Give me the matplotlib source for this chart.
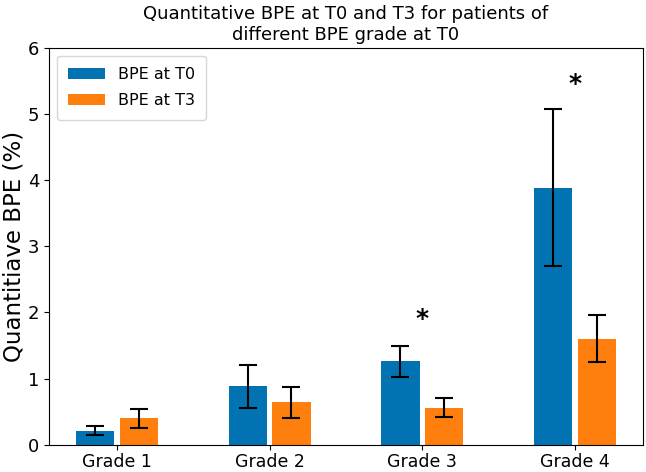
import matplotlib.pyplot as plt
import numpy as np

grades = ['Grade 1', 'Grade 2', 'Grade 3', 'Grade 4']
t0_mean = [0.21, 0.88, 1.26, 3.89]
t0_err = [0.07, 0.32, 0.23, 1.19]
t3_mean = [0.40, 0.64, 0.56, 1.60]
t3_err = [0.145, 0.23, 0.145, 0.355]
sig_pos = [2, 3]
sig_y = [1.9, 5.45]

x = np.arange(len(grades))
w = 0.25
off = 0.143

fig, ax = plt.subplots(figsize=(6.46, 4.72), dpi=100)
ax.bar(x - off, t0_mean, w, yerr=t0_err, capsize=6.5, color='#0173b2',
       error_kw=dict(elinewidth=1.5, capthick=1.5), label='BPE at T0')
ax.bar(x + off, t3_mean, w, yerr=t3_err, capsize=6.5, color='#ff7f0e',
       error_kw=dict(elinewidth=1.5, capthick=1.5), label='BPE at T3')

for p, yy in zip(sig_pos, sig_y):
    ax.text(x[p], yy, '*', ha='center', va='center', fontsize=18, fontweight='bold')

ax.set_ylim(0, 6)
ax.set_xticks(x)
ax.set_xticklabels(grades, fontsize=12.5)
ax.tick_params(axis='x', pad=2.5)
ax.tick_params(axis='y', labelsize=13)
ax.set_ylabel('Quantitiave BPE (%)', fontsize=16.5, labelpad=2)
ax.set_title('Quantitative BPE at T0 and T3 for patients of\ndifferent BPE grade at T0', fontsize=13)
ax.legend(loc='upper left', fontsize=11.5, handlelength=2.3, borderpad=0.7, labelspacing=0.7)

plt.subplots_adjust(left=0.076, right=0.995, bottom=0.058, top=0.898)
plt.savefig('out.png', dpi=100)
